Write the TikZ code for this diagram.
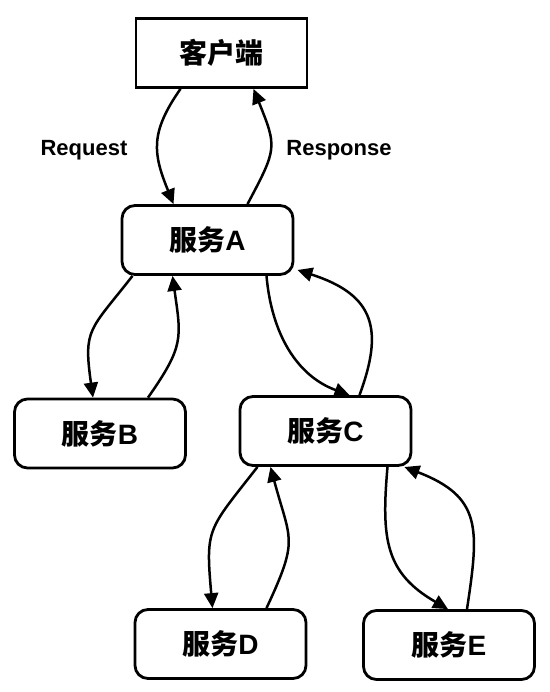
\documentclass[tikz,border=0pt]{standalone}
\usepackage{fontspec}
\setmainfont{Liberation Sans}
\newfontfamily\cjk{Noto Sans CJK SC}
\usetikzlibrary{arrows.meta}

\begin{document}
\begin{tikzpicture}[x=1pt, y=1pt,
  svc/.style={draw, line width=2.8pt, rounded corners=13pt, minimum width=171pt, minimum height=69pt, inner sep=0pt, font=\fontsize{28}{30}\selectfont\bfseries},
  call/.style={line width=2.5pt, -{Triangle[length=15pt,width=14pt]}},
  lbl/.style={font=\fontsize{22}{24}\selectfont\bfseries}]
  \useasboundingbox (0,0) rectangle (549,-692);

  \node[svc, sharp corners] (client) at (221.5,-53) {{\cjk 客户端}};
  \node[svc] (A) at (207.5,-240) {{\cjk 服务}A};
  \node[svc] (B) at (100,-433.5) {{\cjk 服务}B};
  \node[svc] (C) at (325.5,-431) {{\cjk 服务}C};
  \node[svc] (D) at (220.5,-644) {{\cjk 服务}D};
  \node[svc] (E) at (449,-645) {{\cjk 服务}E};

  \node[lbl] (req) at (84,-150) {Request};
  \node[lbl] (resp) at (339,-150) {Response};

  \draw[call] ([xshift=-41pt]client.south) to[out=235, in=112, looseness=1.2] ([xshift=-34pt]A.north);
  \draw[call] ([xshift=40pt]A.north) to[out=62, in=-68, looseness=1.4] ([xshift=32pt]client.south);

  \draw[call] ([xshift=-75pt]A.south) to[out=232, in=98, looseness=1.4] ([xshift=-7pt]B.north);
  \draw[call] ([xshift=48pt]B.north) to[out=55, in=-82, looseness=1.3] ([xshift=-35pt]A.south);

  \draw[call] ([xshift=59pt]A.south) to[out=-85, in=160] ([xshift=24pt]C.north);
  \draw[call] ([xshift=34pt]C.north) .. controls +(24,65) and +(78,-25) .. ([shift={(3pt,-30pt)}]A.east);

  \draw[call] ([xshift=-68pt]C.south) to[out=232, in=95, looseness=1.4] ([xshift=-8pt]D.north);
  \draw[call] ([xshift=46pt]D.north) to[out=65, in=-75, looseness=1.4] ([xshift=-55pt]C.south);

  \draw[call] ([xshift=62pt]C.south) to[out=-95, in=150, looseness=1.2] ([xshift=-1pt]E.north);
  \draw[call] ([xshift=18pt]E.north) .. controls +(12,80) and +(78,-30) .. ([shift={(-8pt,-36pt)}]C.east);
\end{tikzpicture}
\end{document}
